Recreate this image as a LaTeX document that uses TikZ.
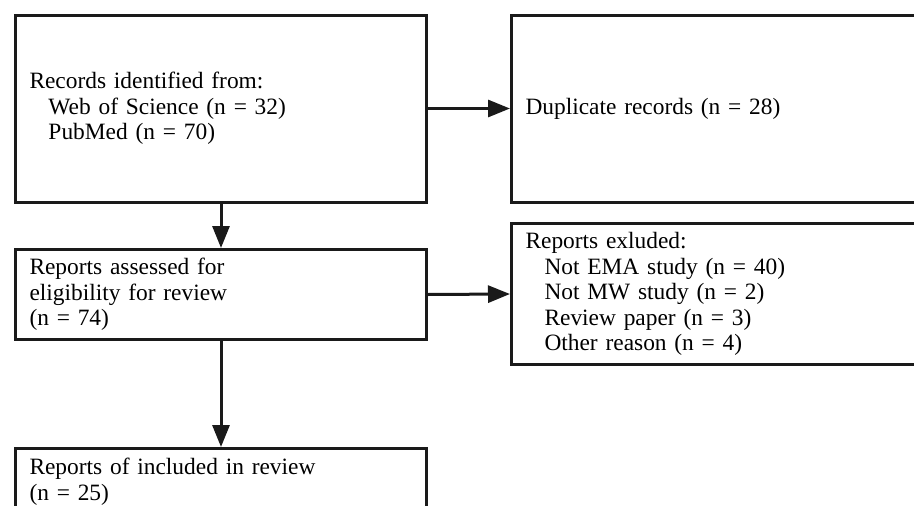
\documentclass[tikz,border=0pt]{standalone}
\usepackage{fontspec}
\setmainfont{Liberation Serif}
\usetikzlibrary{arrows.meta}
\definecolor{boxgray}{HTML}{1A1A1A}
\tikzset{
  flowbox/.style 2 args={draw=boxgray, line width=3pt, rectangle, anchor=north west,
    align=left, inner xsep=14pt, inner ysep=0pt, text width=#1, minimum height=#2,
    font=\fontsize{23.4}{25.6}\selectfont},
  flowarrow/.style={draw=boxgray, line width=3pt, -{Triangle[length=22pt,width=17pt,fill=boxgray]}}
}
\begin{document}
\begin{tikzpicture}[x=1pt, y=-1pt]
    \useasboundingbox (0,0) rectangle (914,506);
    % boxes
    \node[flowbox={383pt}{187pt}] (records) at (14,13.5)
      {Records identified from:\\\hspace*{19pt}Web of Science (n = 32)\\\hspace*{19pt}PubMed (n = 70)};
    \node[flowbox={392pt}{187pt}] (duplicates) at (510,13.5) {Duplicate records (n = 28)};
    \node[flowbox={383pt}{90pt}] (assessed) at (14,248)
      {Reports assessed for\\eligibility for review\\(n = 74)};
    \node[flowbox={392pt}{141pt}] (excluded) at (510,222)
      {Reports exluded:\\\hspace*{19pt}Not EMA study (n = 40)\\\hspace*{19pt}Not MW study (n = 2)\\\hspace*{19pt}Review paper (n = 3)\\\hspace*{19pt}Other reason (n = 4)};
    \node[flowbox={383pt}{66pt}] (included) at (14,447)
      {Reports of included in review\\(n = 25)};
    % arrows
    \draw[flowarrow] (records.east) -- (duplicates.west);
    \draw[flowarrow] (records.south) -- (assessed.north);
    \draw[flowarrow] (assessed.east) -- (excluded.west);
    \draw[flowarrow] (assessed.south) -- (included.north);
\end{tikzpicture}
\end{document}
